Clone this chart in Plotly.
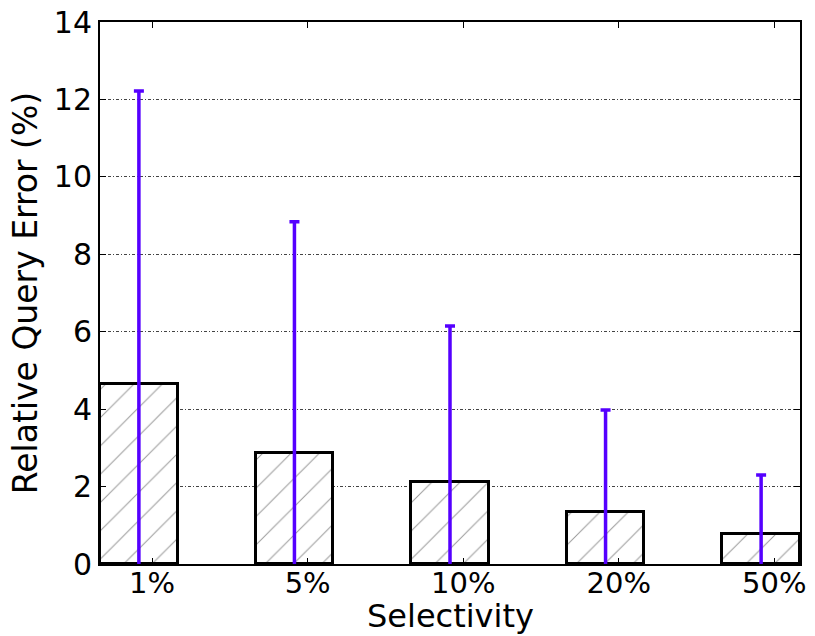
import plotly.graph_objects as go

categories = ["1%", "5%", "10%", "20%", "50%"]
mean_error = [4.65, 2.87, 2.12, 1.34, 0.78]
upper_error = [12.22, 8.84, 6.15, 3.98, 2.30]
y_ticks = [0, 2, 4, 6, 8, 10, 12, 14]

positions = list(range(len(categories)))
err = [u - m for u, m in zip(upper_error, mean_error)]
tick_pos = [p + 0.085 for p in positions]

font = "DejaVu Sans"
tfs = 30
afs = 32

fig = go.Figure()
fig.add_trace(go.Bar(
    x=positions,
    y=mean_error,
    width=0.5,
    marker=dict(
        color="white",
        line=dict(color="black", width=3),
        pattern=dict(shape="/", fgcolor="#333333", bgcolor="white", size=20, solidity=0.05),
    ),
    error_y=dict(type="data", array=err, symmetric=True, color="#5500ff", thickness=3.5, width=5),
    cliponaxis=True,
    showlegend=False,
))

fig.update_layout(
    width=815, height=636,
    margin=dict(l=100, r=15, t=22, b=72),
    paper_bgcolor="white", plot_bgcolor="white",
    font=dict(family=font, size=tfs, color="black"),
    bargap=0,
    annotations=[dict(
        text="Selectivity", xref="paper", yref="paper",
        x=0.5, y=-72 / 542, xanchor="center", yanchor="bottom",
        showarrow=False, font=dict(size=afs), borderpad=0,
    )],
)
fig.update_xaxes(
    range=[-0.25, 4.25],
    tickvals=tick_pos, ticktext=categories,
    ticks="inside", ticklen=6, tickcolor="black", tickwidth=1,
    showline=True, linecolor="black", linewidth=2, mirror="ticks",
    showgrid=False, zeroline=False, automargin=False,
    tickfont=dict(size=29), ticklabelstandoff=-8,
)
fig.update_yaxes(
    range=[0, 14],
    tickvals=y_ticks,
    ticks="inside", ticklen=6, tickcolor="black", tickwidth=1,
    showline=True, linecolor="black", linewidth=2, mirror="ticks",
    showgrid=True, gridcolor="#444444", gridwidth=1, griddash="3px,2px,1px,2px",
    zeroline=False, automargin=False,
    title=dict(text="Relative Query Error (%)", standoff=6, font=dict(size=33)),
    tickfont=dict(size=tfs), ticklabelstandoff=0,
)

fig.write_html("out.html")
